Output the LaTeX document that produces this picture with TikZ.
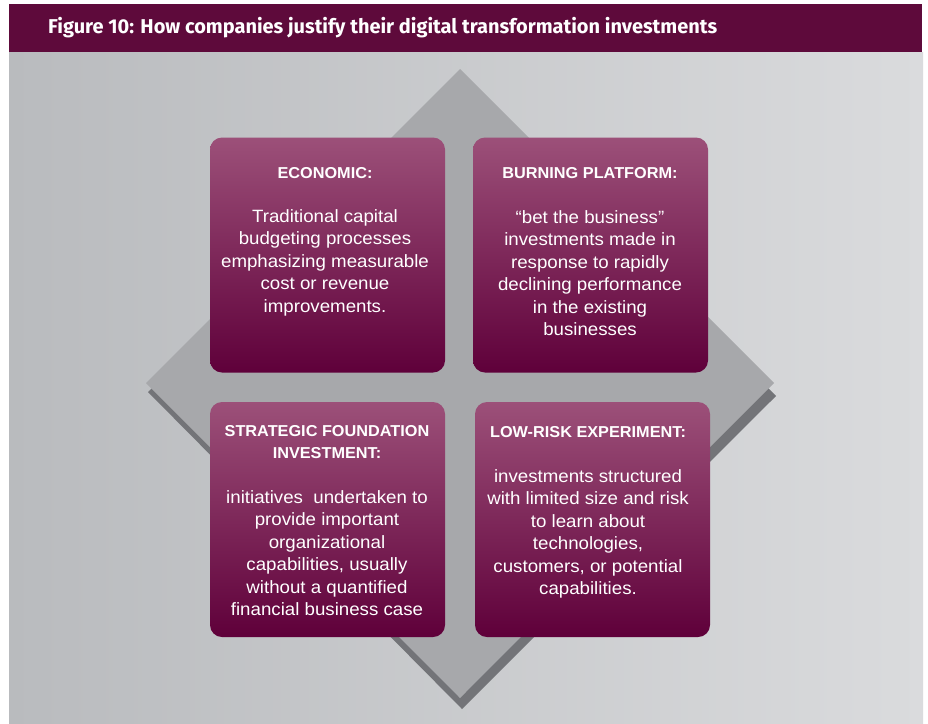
\documentclass[tikz,border=0pt]{standalone}
\usepackage{fontspec}
\setmainfont{Liberation Sans}
\newfontfamily\titlefont{Fira Sans}
\newfontfamily\bodyfont{Liberation Sans}[FakeStretch=1.05]
\newfontfamily\headfont{Liberation Sans}[FakeStretch=1.03]
\definecolor{barcol}{HTML}{5E0A3B}
\definecolor{boxtop}{HTML}{9C5079}
\definecolor{boxmid}{HTML}{7B2559}
\definecolor{boxbot}{HTML}{5F003A}
\definecolor{bgleft}{HTML}{B9BBBE}
\definecolor{bgright}{HTML}{DADBDD}
\definecolor{diam}{HTML}{A7A8AB}
\definecolor{diamshadow}{HTML}{737478}
\tikzset{
  card/.style={rounded corners=12pt, top color=boxtop, middle color=boxmid, bottom color=boxbot,
    minimum width=235pt, minimum height=235pt, inner sep=0pt, draw=none},
  head/.style={text=white, font=\headfont\fontsize{15.8}{22}\selectfont\bfseries, align=center, anchor=base, inner sep=0pt},
  body/.style={text=white, font=\bodyfont\fontsize{17.8}{22.5}\selectfont, align=center, anchor=base, inner sep=0pt},
}
\begin{document}
\begin{tikzpicture}[x=1pt,y=-1pt]
\useasboundingbox (0,0) rectangle (928,723);
% background
\fill[white] (0,0) rectangle (928,723);
\shade[left color=bgleft, right color=bgright] (9,52) rectangle (923,723);
\fill[barcol] (9,4) rectangle (922,52);
\node[anchor=base west, inner sep=0pt, text=white, font=\titlefont\fontsize{20}{24}\selectfont\bfseries] (title) at (48,33)
  {\resizebox{669pt}{\height}{Figure 10: How companies justify their digital transformation investments}};
% diamond
\fill[diamshadow] (148,392) -- (462,709) -- (776,396) -- (462,80) -- cycle;
\fill[diam] (460,69) -- (774,383) -- (460,698) -- (146,383) -- cycle;
% cards
\node[card] (b1) at (327.5,255) {};
\node[card] (b2) at (590.5,255) {};
\node[card] (b3) at (327.5,519.5) {};
\node[card] (b4) at (592.5,519.5) {};
% texts (anchor = baseline of last line)
\node[head] (h1) at (325,178) {ECONOMIC:};
\node[body] (t1) at (325,312) {Traditional capital\\budgeting processes\\emphasizing measurable\\cost or revenue\\improvements.};
\node[head] (h2) at (590,178) {BURNING PLATFORM:};
\node[body] (t2) at (590,335.5) {“bet the business”\\investments made in\\response to rapidly\\declining performance\\in the existing\\businesses};
\node[head] (h3) at (327,458) {STRATEGIC FOUNDATION\\INVESTMENT:};
\node[body] (t3) at (327,615.5) {initiatives\ \ undertaken to\\provide important\\organizational\\capabilities, usually\\without a quantified\\financial business case};
\node[head] (h4) at (588,437) {LOW-RISK EXPERIMENT:};
\node[body] (t4) at (588,594.5) {investments structured\\with limited size and risk\\to learn about\\technologies,\\customers, or potential\\capabilities.};
\end{tikzpicture}
\end{document}
